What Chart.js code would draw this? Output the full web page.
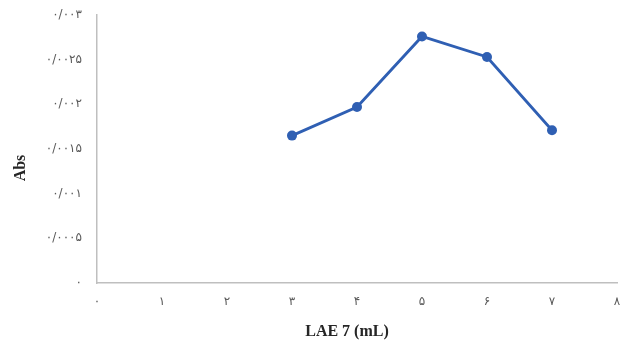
<!DOCTYPE html>
<html>
<head>
<meta charset="utf-8">
<script src="https://cdn.jsdelivr.net/npm/chart.js@4/dist/chart.umd.min.js"></script>
<style>
  html, body { margin: 0; padding: 0; background: #ffffff; }
  #wrap { width: 623px; height: 343px; }
</style>
</head>
<body>
<div id="wrap"><canvas id="c" width="623" height="343"></canvas></div>
<script>
const xValues = [3, 4, 5, 6, 7];
const absValues = [0.00165, 0.00197, 0.00276, 0.00253, 0.00171];
const xTickLabels = ["۰", "۱", "۲", "۳", "۴", "۵", "۶", "۷", "۸"];
const yTickLabels = ["۰", "۰/۰۰۰۵", "۰/۰۰۱", "۰/۰۰۱۵", "۰/۰۰۲", "۰/۰۰۲۵", "۰/۰۰۳"];
const xTitle = "LAE 7 (mL)";
const yTitle = "Abs";

const titlePlugin = {
  id: 'titles',
  afterDraw(chart) {
    const ctx = chart.ctx;
    ctx.save();
    ctx.fillStyle = '#262626';
    ctx.font = 'bold 16px "Liberation Serif", "Times New Roman", serif';
    ctx.textAlign = 'center';
    ctx.textBaseline = 'middle';
    ctx.fillText(xTitle, 347, 332);
    ctx.translate(21, 168);
    ctx.rotate(-Math.PI / 2);
    ctx.fillText(yTitle, 0, 0);
    ctx.restore();
  }
};

new Chart(document.getElementById('c'), {
  type: 'line',
  data: {
    datasets: [{
      data: xValues.map((x, i) => ({ x: x, y: absValues[i] })),
      borderColor: '#2f5fb3',
      backgroundColor: '#2f5fb3',
      borderWidth: 2.8,
      pointRadius: 5,
      pointBorderWidth: 0,
      tension: 0,
      fill: false
    }]
  },
  options: {
    responsive: false,
    animation: false,
    layout: { padding: { left: 0, right: 6, top: 15, bottom: 0 } },
    plugins: { legend: { display: false }, tooltip: { enabled: false } },
    scales: {
      x: {
        type: 'linear',
        min: 0, max: 8,
        afterFit(scale) { scale.height = 60; scale.paddingLeft = 0; scale.paddingRight = 0; },
        grid: { display: false, drawTicks: false },
        border: { display: true, color: '#bfbfbf', width: 1.5 },
        ticks: {
          stepSize: 1,
          padding: 12,
          color: '#595959',
          font: { family: '"DejaVu Sans", sans-serif', size: 12 },
          maxRotation: 0,
          callback: (v) => xTickLabels[Math.round(v)]
        }
      },
      y: {
        min: 0, max: 0.003,
        afterFit(scale) { scale.width = 97; scale.paddingTop = 0; scale.paddingBottom = 0; },
        grid: { display: false, drawTicks: false },
        border: { display: true, color: '#bfbfbf', width: 1.5 },
        ticks: {
          stepSize: 0.0005,
          padding: 15,
          color: '#595959',
          font: { family: '"DejaVu Sans", sans-serif', size: 12 },
          callback: (v) => yTickLabels[Math.round(v / 0.0005)]
        }
      }
    }
  },
  plugins: [titlePlugin]
});
</script>
</body>
</html>
